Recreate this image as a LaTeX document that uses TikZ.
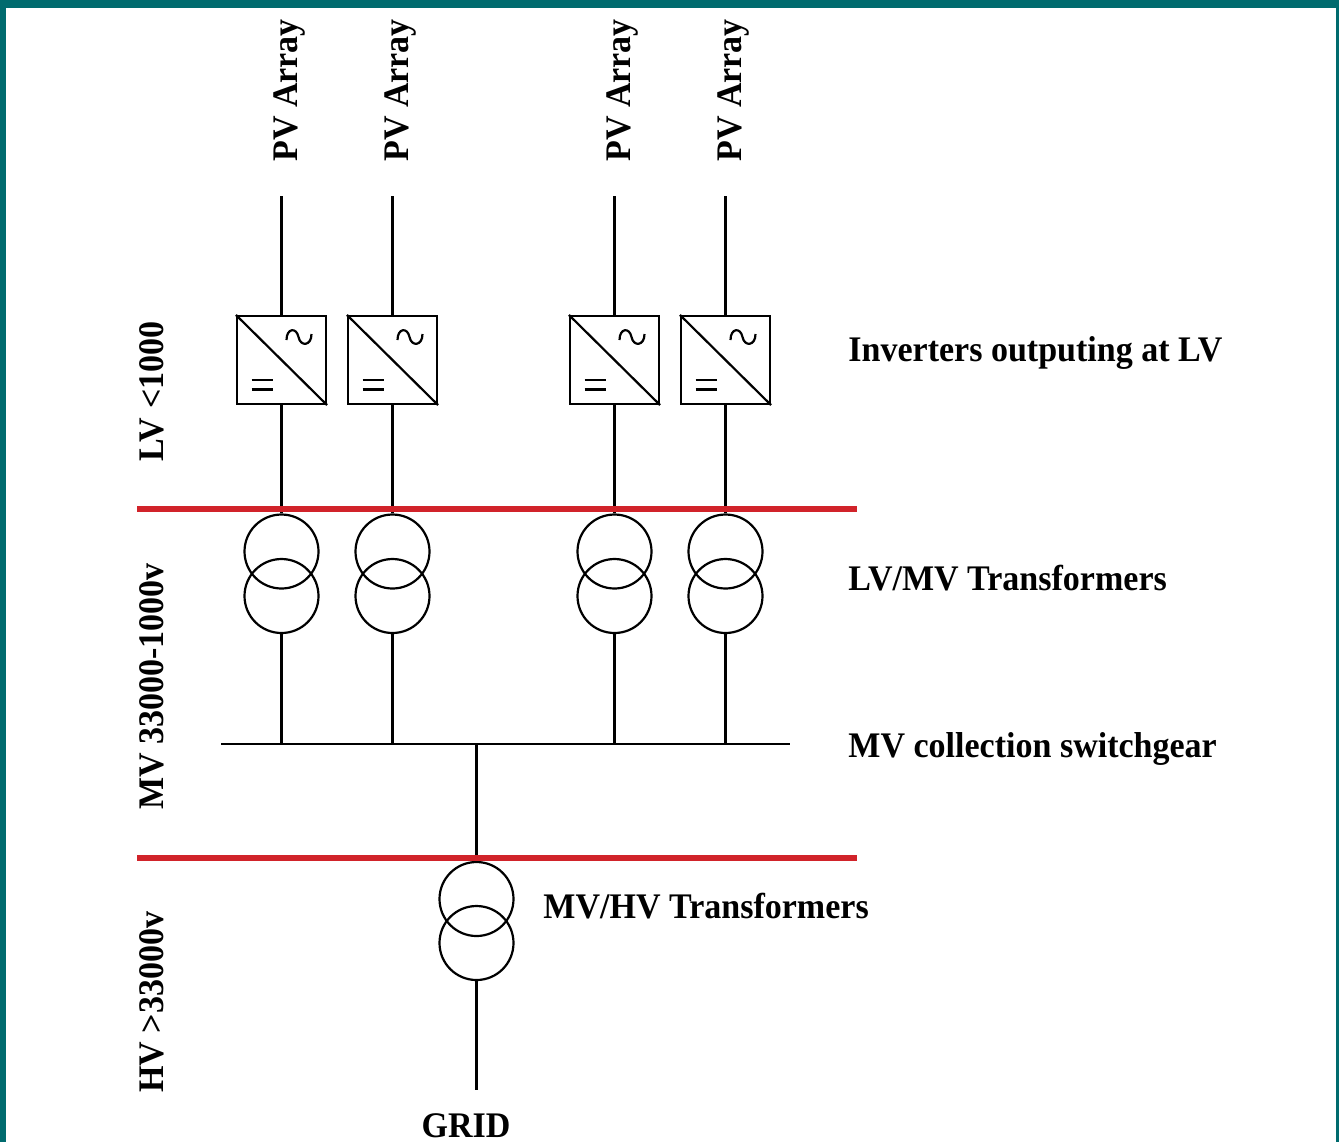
\documentclass[tikz,border=0pt]{standalone}
\usepackage{fontspec}
\setmainfont{Liberation Serif}[FakeStretch=0.945]
\definecolor{framecol}{RGB}{0,107,110}
\definecolor{busred}{RGB}{209,35,42}
\begin{document}
\begin{tikzpicture}[x=0.5pt,y=-0.5pt,
  wire/.style={line width=1.1pt,black},
  redbar/.style={line width=3pt,busred},
  inverter/.style={draw,line width=1.1pt,minimum width=44.5pt,minimum height=44pt,inner sep=0pt},
  coil/.style={draw,circle,line width=1.1pt,minimum size=37pt,inner sep=0pt},
  lbl/.style={inner sep=0pt,font=\fontsize{18pt}{21pt}\selectfont\bfseries},
  vlbl/.style={lbl,rotate=90,anchor=base west},
  hlbl/.style={lbl,anchor=base west}]
\useasboundingbox (0,0) rectangle (1339,1142);
\fill[white] (0,0) rectangle (1339,1142);
% frame
\fill[framecol] (0,0) rectangle (1339,7.5);
\fill[framecol] (0,0) rectangle (6,1142);
\fill[framecol] (1336,0) rectangle (1339,1142);

% MV bus coordinates
\coordinate (busL) at (221,744);
\coordinate (busR) at (790,744);
\coordinate (busT) at (476.5,744);

\foreach \i/\x in {1/281.5,2/392.5,3/614.5,4/725.5} {
  \node[vlbl] (pv\i) at (\x+16,162) {PV Array};
  \coordinate (pvend\i) at (\x,196);
  \node[inverter] (inv\i) at (\x,360) {};
  \draw[wire] (inv\i.north west) -- (inv\i.south east);
  \draw[wire] (\x+5,340) .. controls (\x+5,328) and (\x+15,327) .. (\x+17,337)
                         .. controls (\x+19,347) and (\x+30,346) .. (\x+30,334);
  \draw[wire] (\x-30,380) -- (\x-9,380);
  \draw[wire] (\x-30,389.5) -- (\x-9,389.5);
  \node[coil] (ta\i) at (\x,551.5) {};
  \node[coil] (tb\i) at (\x,596) {};
  \coordinate (bus\i) at (\x,744);
  \draw[wire] (pvend\i) -- (inv\i.north);
  \draw[wire] (inv\i.south) -- (ta\i.north);
  \draw[wire] (tb\i.south) -- (bus\i);
}

\draw[wire] (busL) -- (busR);

% MV/HV transformer
\node[coil] (hva) at (476.5,899) {};
\node[coil] (hvb) at (476.5,943) {};
\coordinate (gridend) at (476.5,1090);
\draw[wire] (busT) -- (hva.north);
\draw[wire] (hvb.south) -- (gridend);
\node[lbl,anchor=base] (grid) at (466,1137) {GRID};

% red separators
\coordinate (r1l) at (137,509);
\coordinate (r1r) at (857,509);
\coordinate (r2l) at (137,857.5);
\coordinate (r2r) at (857,857.5);
\draw[redbar] (r1l) -- (r1r);
\draw[redbar] (r2l) -- (r2r);

% right labels
\node[hlbl] (linv) at (848,361) {Inverters outputing at LV};
\node[hlbl] (llvmv) at (848,590) {LV/MV Transformers};
\node[hlbl] (lmv) at (848,757) {MV collection switchgear};
\node[hlbl] (lmvhv) at (543,918) {MV/HV Transformers};

% left voltage labels
\node[vlbl] (vlv) at (163,462) {LV <1000};
\node[vlbl] (vmv) at (163,810) {MV 33000-1000v};
\node[vlbl] (vhv) at (163,1093) {HV >33000v};
\end{tikzpicture}
\end{document}
